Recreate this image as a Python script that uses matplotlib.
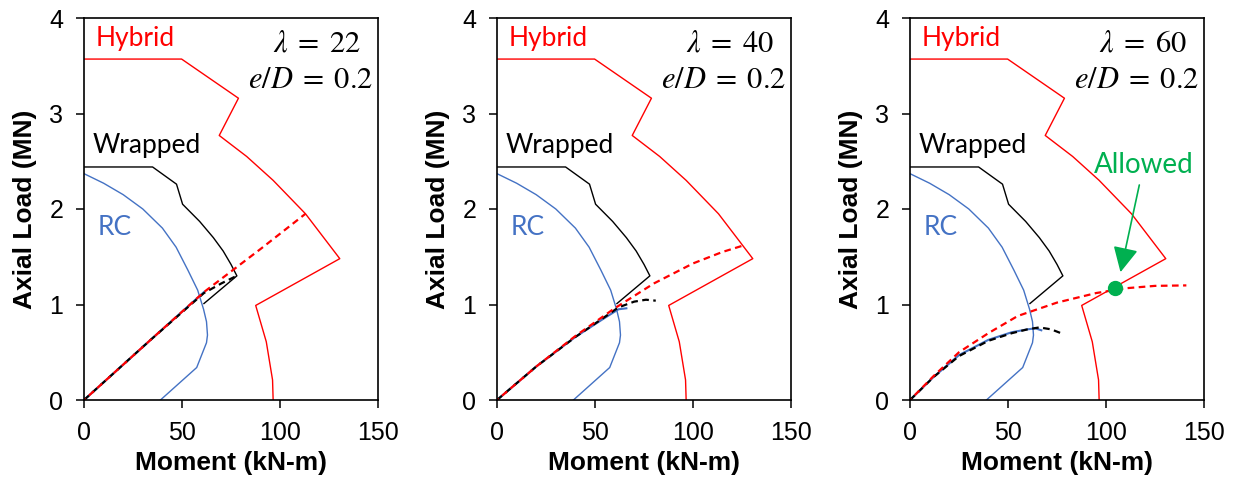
import numpy as np
import matplotlib.pyplot as plt

plt.rcParams['font.family'] = ['Liberation Sans', 'DejaVu Sans']
plt.rcParams['mathtext.fontset'] = 'stix'

# envelopes (same for all three panels): moment kN-m, axial MN
rc_m = [0, 10, 20, 30, 40, 47, 53, 58, 61, 62.5, 63, 62.5, 57.5, 39]
rc_p = [2.37, 2.27, 2.15, 2.00, 1.80, 1.60, 1.36, 1.15, 0.95, 0.82, 0.68, 0.60, 0.34, 0]

wr_m = [0, 35, 47.2, 50.3, 59, 66, 71, 75, 78, 61.2]
wr_p = [2.44, 2.44, 2.26, 2.05, 1.87, 1.70, 1.56, 1.42, 1.30, 1.01]

hy_m = [0, 49.8, 78.8, 69, 83, 96.5, 113, 130.5, 87.6, 93, 96.2, 96.5]
hy_p = [3.57, 3.57, 3.16, 2.77, 2.55, 2.30, 1.95, 1.48, 0.99, 0.61, 0.21, 0]

# load paths per slenderness
lambdas = [22, 40, 60]

red_m = [[0, 34, 61.2, 90, 113],
         [0, 20, 40, 60, 80, 100, 115, 126],
         [0, 12, 25, 40, 55, 75, 95, 110, 125, 141]]
red_p = [[0, 0.63, 1.13, 1.58, 1.95],
         [0, 0.35, 0.67, 0.96, 1.22, 1.43, 1.55, 1.62],
         [0, 0.25, 0.50, 0.70, 0.88, 1.02, 1.12, 1.17, 1.195, 1.20]]

blk_m = [[0, 34, 61.2, 70, 77.9],
         [0, 20, 40, 55, 62, 70, 76, 81],
         [0, 12, 25, 40, 52, 60, 66, 72, 77]]
blk_p = [[0, 0.63, 1.12, 1.22, 1.30],
         [0, 0.35, 0.66, 0.87, 0.97, 1.03, 1.05, 1.04],
         [0, 0.24, 0.46, 0.62, 0.70, 0.74, 0.76, 0.74, 0.70]]

blu_m = [[0, 34, 61.2],
         [0, 20, 40, 55, 62, 66],
         [0, 12, 25, 40, 52, 60, 64, 67]]
blu_p = [[0, 0.63, 1.13],
         [0, 0.35, 0.66, 0.86, 0.95, 0.96],
         [0, 0.24, 0.47, 0.63, 0.71, 0.74, 0.75, 0.73]]

allowed = (104.6, 1.175)

RED = '#FF0000'
BLUE = '#4472C4'
GREEN = '#00B050'
lab_font = ['Lato', 'DejaVu Sans']

fig = plt.figure(figsize=(12.36, 4.8), dpi=100)
lefts = [84, 497, 910]

for i, lam in enumerate(lambdas):
    ax = fig.add_axes([lefts[i] / 1236, 80 / 480, 294 / 1236, 382 / 480])

    # envelopes
    ax.plot(rc_m, rc_p, color=BLUE, lw=1.0)
    ax.plot(wr_m, wr_p, color='black', lw=1.0)
    ax.plot(hy_m, hy_p, color=RED, lw=1.0)

    # load paths
    ax.plot(blu_m[i], blu_p[i], color=BLUE, lw=1.5)
    ax.plot(blk_m[i], blk_p[i], color='black', lw=1.6, ls=(0, (3, 2)))
    ax.plot(red_m[i], red_p[i], color=RED, lw=1.6, ls=(2, (3, 2)))

    ax.text(6.0, 3.79, 'Hybrid', color=RED, fontsize=19, va='center', family=lab_font)
    ax.text(4.5, 2.67, 'Wrapped', color='black', fontsize=19, va='center', family=lab_font)
    ax.text(7.0, 1.81, 'RC', color=BLUE, fontsize=19, va='center', family=lab_font)

    ax.text(119, 3.73, r'$\lambda\;=\;%d$' % lam, fontsize=22, ha='center', va='center')
    ax.text(115.5, 3.35, r'$e/D\;=\;0.2$', fontsize=22, ha='center', va='center')

    if i == 2:
        ax.plot(*allowed, 'o', color=GREEN, ms=10)
        ax.annotate('', xy=(107.1, 1.31), xytext=(117.3, 2.28),
                    arrowprops=dict(arrowstyle='-|>,head_width=0.35,head_length=0.7',
                                    color=GREEN, lw=1.2, mutation_scale=22))
        ax.text(119.4, 2.46, 'Allowed', color=GREEN, fontsize=20, ha='center',
                va='center', family=lab_font)

    ax.set_xlim(0, 150)
    ax.set_ylim(0, 4)
    ax.set_xticks([0, 50, 100, 150])
    ax.set_yticks([0, 1, 2, 3, 4])
    ax.tick_params(direction='out', length=6, width=1.1, labelsize=18, pad=9)
    for s in ax.spines.values():
        s.set_linewidth(1.2)
        s.set_color('black')

    ax.set_xlabel('Moment (kN-m)', fontsize=19, fontweight='bold', va='center')
    ax.xaxis.set_label_coords(0.5, -0.165)
    ax.set_ylabel('Axial Load (MN)', fontsize=19, fontweight='bold', va='center')
    ax.yaxis.set_label_coords(-0.2, 0.5)

plt.savefig('out.png', dpi=100)
